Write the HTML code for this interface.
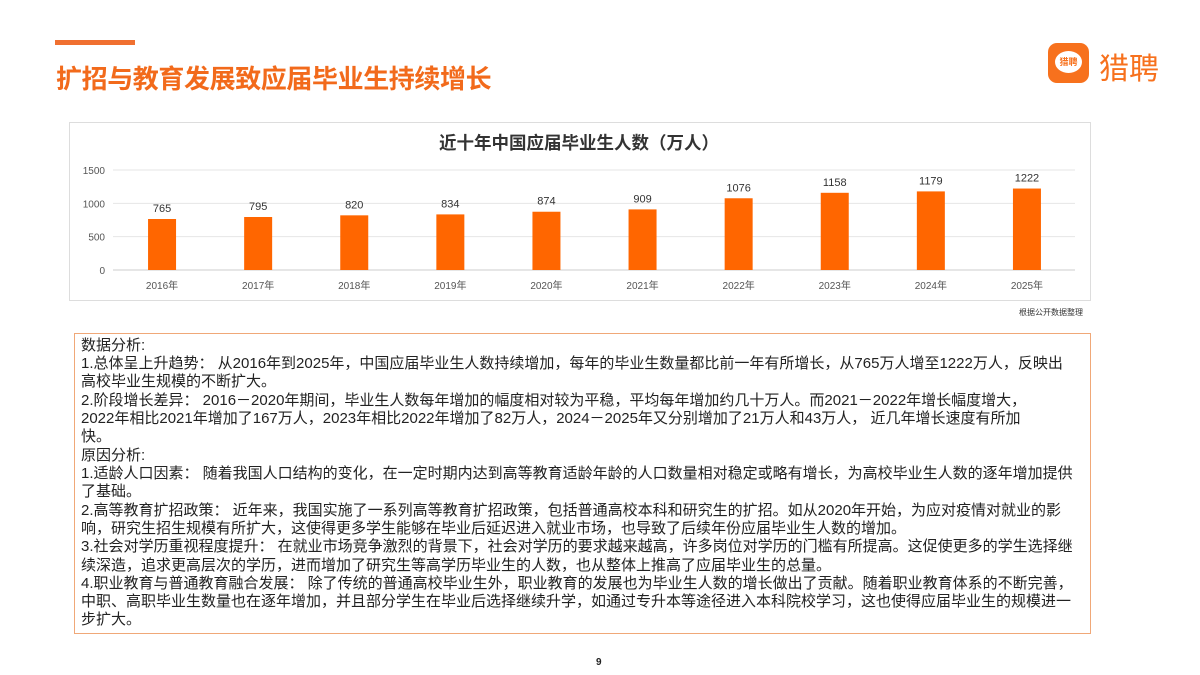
<!DOCTYPE html>
<html><head><meta charset="utf-8"><style>
body{margin:0;width:1200px;height:675px;background:#fff;position:relative;overflow:hidden;font-family:"Liberation Sans","Noto Sans CJK SC",sans-serif}
.abs{position:absolute}
.tl{position:absolute;left:6px;white-space:nowrap;font-size:15px;color:#222;line-height:18px}
</style></head><body>
<div class="abs" style="left:55px;top:40px;width:80px;height:5px;background:#f07030"></div>
<div class="abs" style="left:56px;top:59px;font-size:26px;font-weight:bold;color:#f26a1b;white-space:nowrap;letter-spacing:-0.4px">扩招与教育发展致应届毕业生持续增长</div>
<div class="abs" style="left:1048px;top:43px;width:41px;height:40px;background:#f7711d;border-radius:9px">
 <div style="position:absolute;left:7px;top:8px;width:27px;height:22px;background:#fff;border-radius:50%;color:#f7711d;font-size:9px;font-weight:bold;text-align:center;line-height:22px">猎聘</div></div>
<div class="abs" style="left:1099px;top:44px;font-size:30px;color:#f7711d;white-space:nowrap">猎聘</div>
<div class="abs" style="left:69px;top:122px;width:1020px;height:177px;border:1px solid #ddd"></div>
<svg class="abs" style="left:0;top:0" width="1200" height="330">
<text x="579" y="149" text-anchor="middle" font-size="17.5" font-weight="bold" fill="#333" font-family="Liberation Sans,Noto Sans CJK SC,sans-serif">近十年中国应届毕业生人数（万人）</text>
<g id="g"></g>
<text x="1083" y="315" text-anchor="end" font-size="8" fill="#333" font-family="Liberation Sans,Noto Sans CJK SC,sans-serif">根据公开数据整理</text>
</svg>
<script>
const categories=["2016年","2017年","2018年","2019年","2020年","2021年","2022年","2023年","2024年","2025年"];
const values=[765,795,820,834,874,909,1076,1158,1179,1222];
const ticks=[0,500,1000,1500];
const ns="http://www.w3.org/2000/svg",g=document.getElementById('g');
const x0=114,x1=1075,y0=270,ymax=1500,ph=100;
const band=(x1-x0)/categories.length;
const y=v=>y0-v/ymax*ph;
function mk(t,a,txt){const e=document.createElementNS(ns,t);for(const k in a)e.setAttribute(k,a[k]);if(txt!=null)e.textContent=txt;g.appendChild(e);return e;}
ticks.forEach(t=>{
 const l=mk('line',{x1:113,x2:x1,y1:y(t),y2:y(t),stroke:t?'#e6e6e6':'#ccc','stroke-width':1});
 
 
 const tx=mk('text',{x:105,y:y(t)+4,'text-anchor':'end','font-size':10,fill:'#555','font-family':'Liberation Sans,sans-serif'},t);
 
 
});
values.forEach((v,i)=>{
 const cx=x0+band*(i+0.5);
 const r=mk('rect',{x:cx-14,y:y(v),width:28,height:y0-y(v),fill:'#ff6600'});
 
 
 const vl=mk('text',{x:cx,y:y(v)-7,'text-anchor':'middle','font-size':11,fill:'#333','font-family':'Liberation Sans,sans-serif'},v);
 
 
 const cl=mk('text',{x:cx,y:289,'text-anchor':'middle','font-size':10,fill:'#555','font-family':'Liberation Sans,Noto Sans CJK SC,sans-serif'},categories[i]);
 
 
});
</script>
<div class="abs" style="left:74px;top:333px;width:1015px;height:299px;border:1px solid #f0a878">
<div class="tl" style="top:3px">数据分析:</div>
<div class="tl" style="top:21px">1.总体呈上升趋势： 从2016年到2025年，中国应届毕业生人数持续增加，每年的毕业生数量都比前一年有所增长，从765万人增至1222万人，反映出</div>
<div class="tl" style="top:39px">高校毕业生规模的不断扩大。</div>
<div class="tl" style="top:58px">2.阶段增长差异： 2016－2020年期间，毕业生人数每年增加的幅度相对较为平稳，平均每年增加约几十万人。而2021－2022年增长幅度增大，</div>
<div class="tl" style="top:76px">2022年相比2021年增加了167万人，2023年相比2022年增加了82万人，2024－2025年又分别增加了21万人和43万人， 近几年增长速度有所加</div>
<div class="tl" style="top:94px">快。</div>
<div class="tl" style="top:113px">原因分析:</div>
<div class="tl" style="top:131px">1.适龄人口因素： 随着我国人口结构的变化，在一定时期内达到高等教育适龄年龄的人口数量相对稳定或略有增长，为高校毕业生人数的逐年增加提供</div>
<div class="tl" style="top:149px">了基础。</div>
<div class="tl" style="top:168px">2.高等教育扩招政策： 近年来，我国实施了一系列高等教育扩招政策，包括普通高校本科和研究生的扩招。如从2020年开始，为应对疫情对就业的影</div>
<div class="tl" style="top:186px">响，研究生招生规模有所扩大，这使得更多学生能够在毕业后延迟进入就业市场，也导致了后续年份应届毕业生人数的增加。</div>
<div class="tl" style="top:204px">3.社会对学历重视程度提升： 在就业市场竞争激烈的背景下，社会对学历的要求越来越高，许多岗位对学历的门槛有所提高。这促使更多的学生选择继</div>
<div class="tl" style="top:223px">续深造，追求更高层次的学历，进而增加了研究生等高学历毕业生的人数，也从整体上推高了应届毕业生的总量。</div>
<div class="tl" style="top:241px">4.职业教育与普通教育融合发展： 除了传统的普通高校毕业生外，职业教育的发展也为毕业生人数的增长做出了贡献。随着职业教育体系的不断完善，</div>
<div class="tl" style="top:259px">中职、高职毕业生数量也在逐年增加，并且部分学生在毕业后选择继续升学，如通过专升本等途径进入本科院校学习，这也使得应届毕业生的规模进一</div>
<div class="tl" style="top:277px">步扩大。</div>
</div>
<div class="abs" style="left:596px;top:657px;font-size:10px;font-weight:bold;color:#222">9</div>
</body></html>
